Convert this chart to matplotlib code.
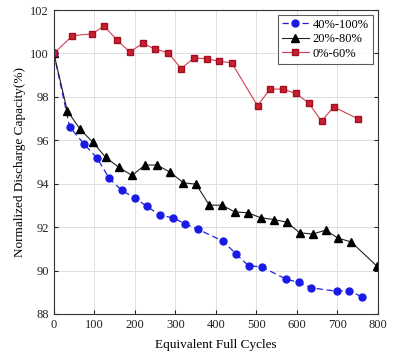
import matplotlib
matplotlib.use("Agg")
import matplotlib.pyplot as plt

# 40%-100%
x_a = [0, 39, 75, 107, 137, 168, 200, 230, 262, 295, 325, 355, 418, 450, 481, 513, 574, 605, 636, 698, 729, 760]
y_a = [100.0, 96.62, 95.82, 95.17, 94.24, 93.69, 93.34, 92.96, 92.54, 92.43, 92.14, 91.91, 91.35, 90.76, 90.22, 90.17, 89.6, 89.45, 89.2, 89.05, 89.08, 88.79]
# 20%-80%
x_b = [0, 33, 65, 97, 128, 161, 193, 225, 255, 287, 320, 351, 384, 415, 447, 479, 511, 543, 575, 607, 639, 671, 702, 734, 798]
y_b = [100.0, 97.37, 96.5, 95.9, 95.21, 94.75, 94.38, 94.86, 94.86, 94.53, 94.04, 93.98, 93.01, 93.01, 92.7, 92.66, 92.43, 92.35, 92.23, 91.74, 91.68, 91.86, 91.49, 91.32, 90.2]
# 0%-60%
x_c = [0, 46, 94, 124, 157, 188, 219, 251, 283, 314, 346, 377, 408, 439, 503, 534, 565, 597, 629, 661, 691, 752]
y_c = [100.0, 100.82, 100.9, 101.26, 100.6, 100.06, 100.47, 100.19, 100.03, 99.3, 99.79, 99.76, 99.64, 99.57, 97.59, 98.36, 98.36, 98.16, 97.73, 96.88, 97.54, 96.98]

labels = ["40%-100%", "20%-80%", "0%-60%"]
xticks = [0, 100, 200, 300, 400, 500, 600, 700, 800]
yticks = [88, 90, 92, 94, 96, 98, 100, 102]

plt.rcParams['font.family'] = ['Liberation Serif', 'DejaVu Serif']
plt.rcParams['font.size'] = 9

fig = plt.figure(figsize=(4.08, 3.58), dpi=100)
ax = fig.add_axes([0.132, 0.123, 0.794, 0.849])

ax.plot(x_a, y_a, color='#2020d8', linestyle=(0, (5, 3)), linewidth=0.9,
        marker='o', markersize=5, markerfacecolor='#1a1ae6', markeredgecolor='#1a1ae6', label=labels[0])
ax.plot(x_b, y_b, color='#222222', linestyle='-', linewidth=0.8,
        marker='^', markersize=5.5, markerfacecolor='black', markeredgecolor='black', label=labels[1])
ax.plot(x_c, y_c, color='#d04050', linestyle='-', linewidth=0.8,
        marker='s', markersize=4.5, markerfacecolor='#c8202f', markeredgecolor='#a01020', label=labels[2])

ax.set_xlim(0, 800)
ax.set_ylim(88, 102)
ax.set_xticks(xticks)
ax.set_yticks(yticks)
ax.grid(True, color='#e0e0e0', linewidth=0.7)
ax.set_axisbelow(True)
ax.tick_params(direction='in', length=3, top=False, right=True, labelsize=9, colors='#222222')
for s in ax.spines.values():
    s.set_linewidth(0.8)
    s.set_color('#333333')

ax.set_xlabel("Equivalent Full Cycles", fontsize=9.5, labelpad=6)
ax.set_ylabel("Normalized Discharge Capacity(%)", fontsize=9.5, labelpad=3)

leg = ax.legend(loc='upper right', fontsize=9, frameon=True, fancybox=False,
                edgecolor='#333333', borderpad=0.3, labelspacing=0.2,
                handlelength=2.2, handletextpad=0.3, borderaxespad=0.4)
leg.get_frame().set_linewidth(0.8)

fig.savefig("out.png", dpi=100)
